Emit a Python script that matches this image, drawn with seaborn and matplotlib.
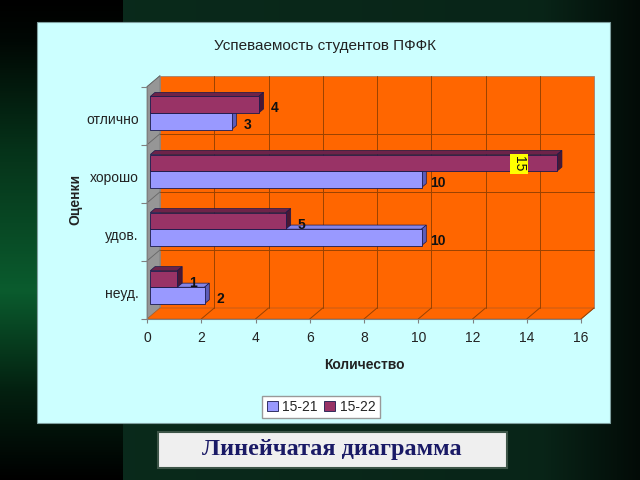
import numpy as np
import pandas as pd
import matplotlib
matplotlib.use('Agg')
import matplotlib.pyplot as plt
import seaborn as sns
from matplotlib.patches import Rectangle, Polygon, Patch
from matplotlib.lines import Line2D
from matplotlib.transforms import ScaledTranslation, IdentityTransform

# data
grades = ['отлично', 'хорошо', 'удов.', 'неуд.']
vals_1521 = [3, 10, 10, 2]
vals_1522 = [4, 15, 5, 1]
groups = ['15-21', '15-22']
x_ticks = [0, 2, 4, 6, 8, 10, 12, 14, 16]

df = pd.DataFrame({
    'grade': grades * 2,
    'group': [groups[0]] * 4 + [groups[1]] * 4,
    'value': vals_1521 + vals_1522,
})

colors = {'15-21': '#9999FF', '15-22': '#993366'}
tops = {'15-21': '#8585E6', '15-22': '#6E2349'}
sides = {'15-21': '#5C5CB8', '15-22': '#4A1733'}

sns.set_theme(style='white')
plt.rcParams['font.family'] = ['Liberation Sans', 'DejaVu Sans']

W, H = 640, 480
fig = plt.figure(figsize=(6.4, 4.8), dpi=100)

# slide background
yy, xx = np.mgrid[0:H, 0:W]
img = np.zeros((H, W, 3))
base = np.array([0.04, 0.17, 0.11])
fade = np.interp(xx, [0, 540, 640], [1.0, 0.85, 0.25])
img[:] = base * fade[..., None]
left = xx < 123
prof = np.interp(yy, [0, 40, 150, 290, 390, 480], [0.0, 0.08, 0.55, 1.0, 0.35, 0.0])
green = np.array([0.04, 0.36, 0.18])
img[left] = (green * prof[..., None])[left]
bg = fig.add_axes([0, 0, 1, 1], zorder=-10)
bg.imshow(img, aspect='auto', extent=(0, 1, 0, 1))
bg.axis('off')

# chart panel
fig.add_artist(Rectangle((37 / W, 1 - 422.7 / H), 573 / W, 400.7 / H,
                         transform=fig.transFigure, fc='#CCFFFF',
                         ec='#7f9f9f', lw=0.8, zorder=-5))

ax = fig.add_axes([147 / W, 1 - 319 / H, 434 / W, 232.3 / H])
ax.patch.set_visible(False)

hue_order = ['15-22', '15-21']
sns.barplot(data=df, x='value', y='grade', hue='group', order=grades,
            hue_order=hue_order, palette=colors, orient='h', width=0.57,
            saturation=1, edgecolor='#1a1a4d', linewidth=0.6,
            legend=False, ax=ax)
ax.set_xlim(0, 16)
ax.set_ylim(3.5, -0.5)

DX, DY = 13, 11


def off(d):
    return ScaledTranslation(DX * d / 100, DY * d / 100, fig.dpi_scale_trans)


def px(x, y, d=0):
    p = ax.transData.transform((x, y))
    return (p[0] + DX * d, p[1] + DY * d)


idt = IdentityTransform()
orange = '#FF6600'
grid_c = '#9A4200'

# walls and floor
ax.add_patch(Polygon([px(0, 3.5, 1), px(16, 3.5, 1), px(16, -0.5, 1), px(0, -0.5, 1)],
                     transform=idt, fc=orange, ec='#a08070', lw=0.6, zorder=0.2, clip_on=False))
ax.add_patch(Polygon([px(0, 3.5, 0), px(0, -0.5, 0), px(0, -0.5, 1), px(0, 3.5, 1)],
                     transform=idt, fc='#969696', ec='#777777', lw=0.5, zorder=0.3, clip_on=False))
ax.add_patch(Polygon([px(0, 3.5, 0), px(16, 3.5, 0), px(16, 3.5, 1), px(0, 3.5, 1)],
                     transform=idt, fc=orange, ec='#b05a20', lw=0.5, zorder=0.3, clip_on=False))

for x in x_ticks[1:-1]:
    (a0, b0), (a1, b1) = px(x, 3.5, 1), px(x, -0.5, 1)
    ax.add_line(Line2D([a0, a1], [b0, b1], transform=idt, color=grid_c, lw=0.7, zorder=0.4, clip_on=False))
for x in x_ticks[1:]:
    (a0, b0), (a1, b1) = px(x, 3.5, 0), px(x, 3.5, 1)
    ax.add_line(Line2D([a0, a1], [b0, b1], transform=idt, color=grid_c, lw=0.7, zorder=0.4, clip_on=False))
for yb in [0.5, 1.5, 2.5]:
    (a0, b0), (a1, b1) = px(0, yb, 1), px(16, yb, 1)
    ax.add_line(Line2D([a0, a1], [b0, b1], transform=idt, color=grid_c, lw=0.7, zorder=0.4, clip_on=False))
for yb in [-0.5, 0.5, 1.5, 2.5]:
    (a0, b0), (a1, b1) = px(0, yb, 0), px(0, yb, 1)
    ax.add_line(Line2D([a0, a1], [b0, b1], transform=idt, color='#666666', lw=0.6, zorder=0.45, clip_on=False))

# 3D bars
fa, fb = 0.25, 0.62
items = []
for cont, grp in zip(ax.containers, hue_order):
    for p in cont.patches:
        items.append((p, grp))
items.sort(key=lambda t: -(t[0].get_y() + t[0].get_height() / 2))
z = 2
for p, grp in items:
    x0 = p.get_x()
    x1 = x0 + p.get_width()
    y0, y1 = p.get_y(), p.get_y() + p.get_height()
    yt, yb = min(y0, y1), max(y0, y1)
    p.set_transform(ax.transData + off(fa))
    p.set_zorder(z + 0.002)
    p.set_clip_on(False)
    ax.add_patch(Polygon([px(x0, yt, fa), px(x1, yt, fa), px(x1, yt, fb), px(x0, yt, fb)],
                         transform=idt, fc=tops[grp], ec='#1a1a4d', lw=0.5, zorder=z, clip_on=False))
    ax.add_patch(Polygon([px(x1, yb, fa), px(x1, yt, fa), px(x1, yt, fb), px(x1, yb, fb)],
                         transform=idt, fc=sides[grp], ec='#1a1a4d', lw=0.5, zorder=z, clip_on=False))
    z += 0.01

    v = p.get_width()
    yc = (y0 + y1) / 2
    if v >= 15:
        ax.annotate(f'{v:g}', xy=(x1, yc), xytext=(DX * fa - 38, DY * fa - 1),
                    textcoords='offset pixels', ha='center', va='center',
                    rotation=-90, fontsize=10, color='#111111', zorder=5,
                    bbox=dict(boxstyle='square,pad=0.15', fc='#FFFF00', ec='none'))
    else:
        ax.annotate(f'{v:g}', xy=(x1, yc), xytext=(DX * fa + 16, -1),
                    textcoords='offset pixels', ha='center', va='center',
                    fontsize=10, fontweight='bold', color='#111111', zorder=5)

# axes styling
for s in ['top', 'right']:
    ax.spines[s].set_visible(False)
for s in ['left', 'bottom']:
    ax.spines[s].set_color('#808080')
    ax.spines[s].set_linewidth(0.8)
    ax.spines[s].set_zorder(1)
ax.set_xticks(x_ticks)
ax.set_xticklabels([str(t) for t in x_ticks])
ax.set_yticks(range(len(grades)))
ax.set_yticklabels(grades)
ax.set_yticks([-0.5, 0.5, 1.5, 2.5, 3.5], minor=True)
ax.tick_params(axis='x', length=3, width=0.8, color='#808080', pad=6,
               labelsize=10, labelcolor='#222222', bottom=True)
ax.tick_params(axis='y', which='major', length=0, pad=6, labelsize=10, labelcolor='#222222')
ax.tick_params(axis='y', which='minor', length=4, width=0.8, color='#808080', left=True)
for lbl in ax.get_yticklabels():
    lbl.set_transform(lbl.get_transform() + ScaledTranslation(0, -0.03, fig.dpi_scale_trans))

ax.set_xlabel('Количество', fontsize=10, fontweight='bold', color='#222222')
ax.xaxis.set_label_coords(0.5, -0.167)
ax.set_ylabel('Оценки', fontsize=10, fontweight='bold', color='#222222')
ax.yaxis.set_label_coords(-0.148, 0.513)

fig.text(325 / W, 1 - 46 / H, 'Успеваемость студентов ПФФК', ha='center', va='center',
         fontsize=11, color='#222222')

handles = [Patch(fc=colors[g], ec='#1a1a4d', lw=0.6, label=g) for g in groups]
fig.legend(handles=handles, loc='center', bbox_to_anchor=(321 / W, 1 - 407 / H), ncol=2,
           fontsize=10, frameon=True, fancybox=False, edgecolor='#999999',
           facecolor='white', framealpha=1, handlelength=0.8, handleheight=0.8,
           handletextpad=0.3, columnspacing=0.5, borderpad=0.3)

# caption
fig.add_artist(Rectangle((158 / W, 1 - 468 / H), 349 / W, 36 / H, transform=fig.transFigure,
                         fc='#EFEFEF', ec='#3d5548', lw=1.5, zorder=1))
fig.text(332 / W, 1 - 450 / H, 'Линейчатая диаграмма', ha='center', va='center',
         family=['Liberation Serif', 'DejaVu Serif'], fontweight='bold',
         fontsize=17.5, color='#1a1a66', zorder=2)

fig.savefig('out.png', dpi=100)
